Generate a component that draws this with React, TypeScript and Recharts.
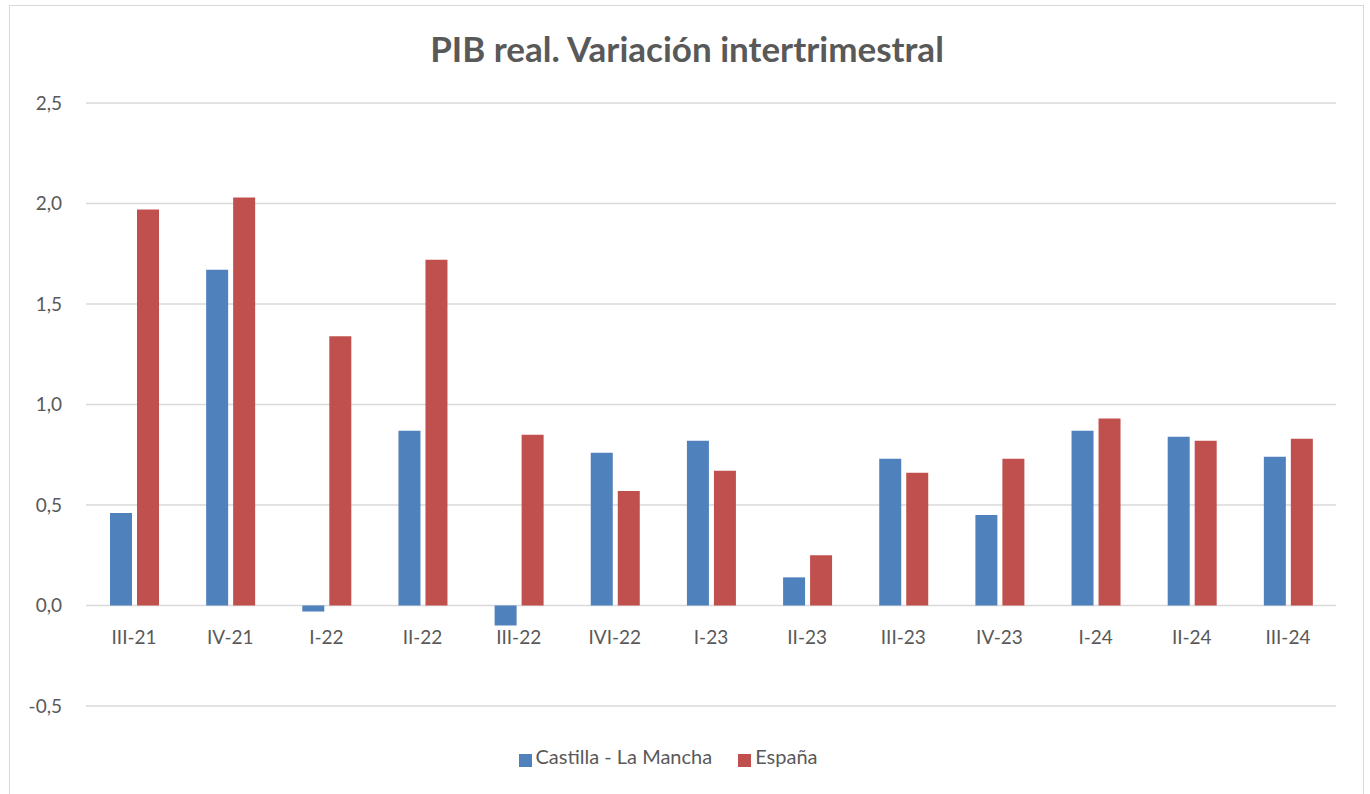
import React from 'react';
import { BarChart, Bar, XAxis, YAxis, CartesianGrid, Legend } from 'recharts';

const quarters = ['III-21', 'IV-21', 'I-22', 'II-22', 'III-22', 'IVI-22', 'I-23', 'II-23', 'III-23', 'IV-23', 'I-24', 'II-24', 'III-24'];
const castillaLaMancha = [0.46, 1.67, -0.03, 0.87, -0.10, 0.76, 0.82, 0.14, 0.73, 0.45, 0.87, 0.84, 0.74];
const espana = [1.97, 2.03, 1.34, 1.72, 0.85, 0.57, 0.67, 0.25, 0.66, 0.73, 0.93, 0.82, 0.83];
const yTicks = [-0.5, 0, 0.5, 1, 1.5, 2, 2.5];

const data = quarters.map((q, i) => ({
  quarter: q,
  clm: castillaLaMancha[i],
  esp: espana[i],
}));

const FONT = 'Lato, "Open Sans", sans-serif';
const GRAY = '#595959';

const W = 1370;
const H = 794;
const TOP = 103;
const PLOT_H = 603;
const ZERO_SHIFT = PLOT_H * (0.5 / 3); // distance from plot bottom (-0.5) to 0 line

const XTick = (props: any) => {
  const { x, y, payload } = props;
  return (
    <text
      x={x}
      y={y - ZERO_SHIFT + 23}
      textAnchor="middle"
      dominantBaseline="central"
      fill={GRAY}
      fontSize={19}
      fontFamily={FONT}
    >
      {payload.value}
    </text>
  );
};

const App = () => {
  return (
    <div style={{ position: 'absolute', left: 0, top: 0, width: W, height: H, background: '#fff', overflow: 'hidden' }}>
      <div
        style={{
          position: 'absolute',
          left: 9,
          top: 5,
          width: 1355,
          height: 820,
          border: '1.5px solid #D9D9D9',
          boxSizing: 'border-box',
        }}
      />
      <div
        style={{
          position: 'absolute',
          left: 0,
          width: W + 4,
          top: 27,
          textAlign: 'center',
          fontFamily: FONT,
          fontWeight: 'bold',
          fontSize: 35,
          color: GRAY,
          lineHeight: '42px',
        }}
      >
        PIB real. Variación intertrimestral
      </div>
      <div style={{ position: 'absolute', left: 0, top: 0 }}>
        <BarChart
          data={data}
          width={W}
          height={H}
          margin={{ top: TOP, right: 34, left: 26, bottom: 26 }}
          barSize={22}
          barGap={5}
        >
          <CartesianGrid vertical={false} stroke="#D9D9D9" strokeWidth={1.3} />
          <XAxis
            dataKey="quarter"
            axisLine={false}
            tickLine={false}
            height={38}
            interval={0}
            tick={<XTick />}
          />
          <YAxis
            width={60}
            domain={[-0.5, 2.5]}
            ticks={yTicks}
            axisLine={false}
            tickLine={false}
            tickSize={0}
            tickMargin={24}
            tickFormatter={(v: number) => v.toFixed(1).replace('.', ',')}
            tick={{ fill: GRAY, fontSize: 19, fontFamily: FONT }}
            interval={0}
          />
          <Legend
            verticalAlign="bottom"
            height={24}
            iconType="square"
            iconSize={13}
            formatter={(value: string) => (
              <span style={{ color: GRAY, fontSize: 20, fontFamily: FONT, marginRight: 16 }}>{value}</span>
            )}
          />
          <Bar dataKey="clm" name="Castilla - La Mancha" fill="#4F81BD" isAnimationActive={false} />
          <Bar dataKey="esp" name="España" fill="#C0504D" isAnimationActive={false} />
        </BarChart>
      </div>
    </div>
  );
};

export default App;
